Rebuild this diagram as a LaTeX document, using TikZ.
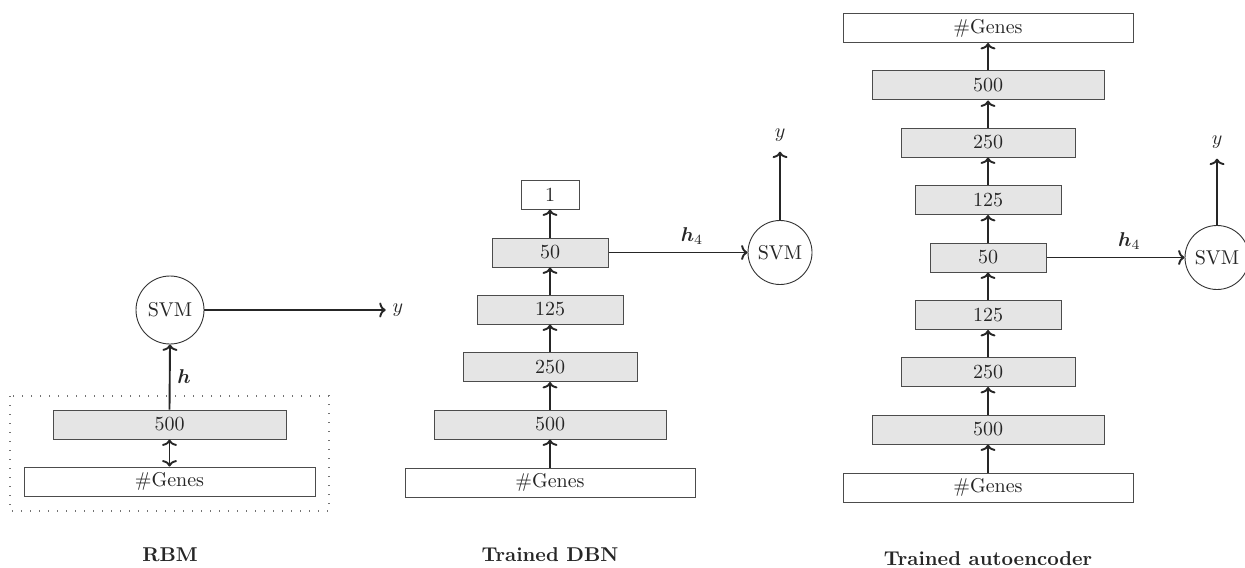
\documentclass[tikz,border=0pt]{standalone}
\usepackage{amsmath,bm}
\usetikzlibrary{arrows.meta}
\begin{document}
\begin{tikzpicture}[x=0.5pt,y=-0.5pt,
  tip/.tip={To[length=3.2pt,width=7.5pt]},
  layer/.style={draw=black!70,line width=0.5pt,fill=black!10,rectangle,inner sep=0pt,minimum height=14.5pt,text=black!85},
  io/.style={layer,fill=white},
  svm/.style={draw=black!80,line width=0.45pt,circle,inner sep=0pt,minimum size=#1,text=black!85},
  conn/.style={-tip,line width=0.95pt,black!85},
  dconn/.style={tip-tip,line width=0.95pt,black!85},
  ttl/.style={font=\bfseries,text=black!85},
  lbl/.style={text=black!85}]
\useasboundingbox (0,0) rectangle (1245,567);
% ---------- RBM ----------
\draw[black!55,line width=0.6pt,dash pattern=on 0.6pt off 3.9pt] (10,396) rectangle (329,511);
\node[layer,minimum width=116.5pt] (r500) at (169.5,424.5) {500};
\node[io,minimum width=145.5pt] (rgen) at (169.5,481.5) {\#Genes};
\node[svm=34pt] (rsvm) at (170,310) {SVM};
\node[lbl] (ry) at (398,310) {$y$};
\draw[dconn] (r500.south) -- (rgen.north);
\draw[conn] (r500.north) -- node[lbl,right] {$\bm{h}$} (rsvm.south);
\draw[conn] (rsvm.east) -- (ry.west);
\node[ttl] (rt) at (170,555) {RBM};
% ---------- DBN ----------
\node[io,minimum width=29pt] (d1) at (550,194.5) {1};
\node[layer,minimum width=58pt] (d50) at (550,252.5) {50};
\node[layer,minimum width=73pt] (d125) at (550,309.5) {125};
\node[layer,minimum width=87pt] (d250) at (550,367) {250};
\node[layer,minimum width=116pt] (d500) at (550,424.5) {500};
\node[io,minimum width=145pt] (dgen) at (550,482.5) {\#Genes};
\node[svm=32pt] (dsvm) at (780,252.5) {SVM};
\node[lbl,inner sep=1pt] (dy) at (780,135) {$y$};
\draw[conn] (dgen.north) -- (d500.south);
\draw[conn] (d500.north) -- (d250.south);
\draw[conn] (d250.north) -- (d125.south);
\draw[conn] (d125.north) -- (d50.south);
\draw[conn] (d50.north) -- (d1.south);
\draw[conn] (d50.east) -- node[lbl,above,pos=0.6] {$\bm{h}_4$} (dsvm.west);
\draw[conn] (dsvm.north) -- ([yshift=-4pt]dy.south);
\node[ttl] (dt) at (550,555) {Trained DBN};
% ---------- Autoencoder ----------
\node[io,minimum width=145pt] (ag1) at (988,28) {\#Genes};
\node[layer,minimum width=116pt] (a5b) at (988,85.5) {500};
\node[layer,minimum width=87pt] (a2b) at (988,142.5) {250};
\node[layer,minimum width=73pt] (a1b) at (988,200) {125};
\node[layer,minimum width=58pt] (a50) at (988,257.5) {50};
\node[layer,minimum width=73pt] (a1a) at (988,315) {125};
\node[layer,minimum width=87pt] (a2a) at (988,372) {250};
\node[layer,minimum width=116pt] (a5a) at (988,429.5) {500};
\node[io,minimum width=145pt] (ag0) at (988,487.5) {\#Genes};
\node[svm=32pt] (asvm) at (1217,257.5) {SVM};
\node[lbl,inner sep=1pt] (ay) at (1217,142) {$y$};
\draw[conn] (ag0.north) -- (a5a.south);
\draw[conn] (a5a.north) -- (a2a.south);
\draw[conn] (a2a.north) -- (a1a.south);
\draw[conn] (a1a.north) -- (a50.south);
\draw[conn] (a50.north) -- (a1b.south);
\draw[conn] (a1b.north) -- (a2b.south);
\draw[conn] (a2b.north) -- (a5b.south);
\draw[conn] (a5b.north) -- (ag1.south);
\draw[conn] (a50.east) -- node[lbl,above,pos=0.6] {$\bm{h}_4$} (asvm.west);
\draw[conn] (asvm.north) -- ([yshift=-4pt]ay.south);
\node[ttl] (at) at (988,559) {Trained autoencoder};
\end{tikzpicture}
\end{document}
